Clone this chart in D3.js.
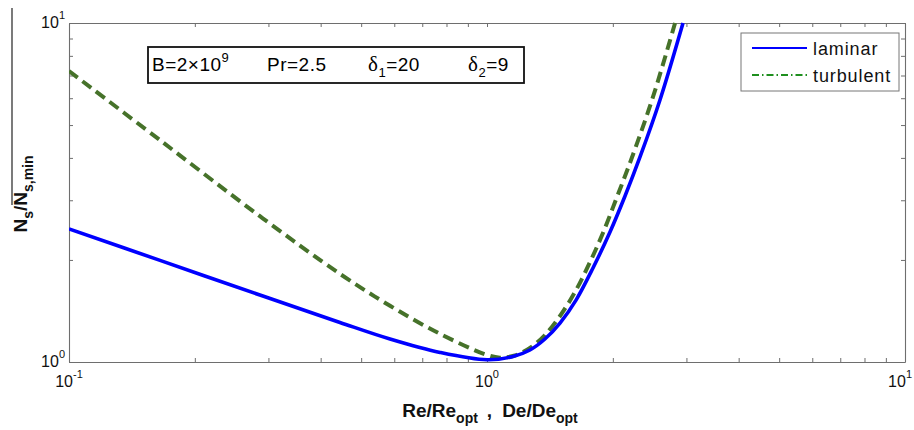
<!DOCTYPE html>
<html>
<head>
<meta charset="utf-8">
<script src="https://cdn.jsdelivr.net/npm/d3@7"></script>
<style>
  html, body { margin: 0; padding: 0; background: #fff; }
  svg { display: block; font-family: "Liberation Sans", Arial, sans-serif; }
</style>
</head>
<body>
<svg id="chart" width="914" height="430"></svg>
<script>
// Normalised ratio (Re/Re_opt or De/De_opt) and entropy generation N_s/N_s,min
const laminarX = [0.1, 0.1651, 0.2862, 0.4448, 0.5861, 0.772, 1.0, 1.154, 1.267, 1.376, 1.495, 1.633, 1.793, 1.969, 2.139, 2.323, 2.593, 2.944];
const laminarY = [2.469, 1.994, 1.576, 1.308, 1.169, 1.067, 1.015, 1.038, 1.085, 1.169, 1.303, 1.523, 1.894, 2.418, 3.088, 4.025, 5.929, 10];

const turbulentX = [0.1, 0.1651, 0.2862, 0.4448, 0.5861, 0.772, 1.0, 1.074, 1.167, 1.267, 1.376, 1.495, 1.624, 1.764, 1.894, 2.046, 2.211, 2.495, 2.818];
const turbulentY = [7.218, 4.511, 2.692, 1.82, 1.465, 1.211, 1.049, 1.03, 1.045, 1.1, 1.201, 1.367, 1.609, 1.972, 2.402, 3.067, 3.944, 6.05, 10];

const xDecades = [0.1, 1, 10];
const xDecadeExp = ["-1", "0", "1"];
const yDecades = [1, 10];
const yDecadeExp = ["0", "1"];

const seriesNames = ["laminar", "turbulent"];

const svg = d3.select("#chart");
const plotLeft = 69, plotRight = 905, plotTop = 23, plotBottom = 362;

const x = d3.scaleLog().domain([0.1, 10]).range([plotLeft, plotRight]);
const y = d3.scaleLog().domain([1, 10]).range([plotBottom, plotTop]);

const axisColor = "#6e6e6e";

svg.append("rect").attr("width", 914).attr("height", 430).attr("fill", "#fff");

svg.append("defs").append("clipPath").attr("id", "plotClip")
  .append("rect").attr("x", plotLeft).attr("y", plotTop - 3)
  .attr("width", plotRight - plotLeft).attr("height", plotBottom - plotTop + 3);

// Box axes with inward minor ticks on all four sides
function styleAxis(g) {
  g.selectAll("path.domain").attr("stroke", axisColor).attr("stroke-width", 1.1);
  g.selectAll(".tick line").attr("stroke", axisColor).attr("stroke-width", 1);
}
const xTicks = x.ticks();
const yTicks = y.ticks();

svg.append("g").attr("transform", `translate(0,${plotBottom})`)
  .call(d3.axisBottom(x).tickValues(xTicks).tickFormat("").tickSizeInner(-4).tickSizeOuter(0)).call(styleAxis);
svg.append("g").attr("transform", `translate(0,${plotTop})`)
  .call(d3.axisTop(x).tickValues(xTicks).tickFormat("").tickSizeInner(-4).tickSizeOuter(0)).call(styleAxis);
svg.append("g").attr("transform", `translate(${plotLeft},0)`)
  .call(d3.axisLeft(y).tickValues(yTicks).tickFormat("").tickSizeInner(-4).tickSizeOuter(0)).call(styleAxis);
svg.append("g").attr("transform", `translate(${plotRight},0)`)
  .call(d3.axisRight(y).tickValues(yTicks).tickFormat("").tickSizeInner(-4).tickSizeOuter(0)).call(styleAxis);

// Decade tick labels written as 10 with a superscript exponent;
// the last one is kept inside the page edge
const xLab = svg.append("g").selectAll("text").data(xDecades).join("text")
  .attr("x", (d, i) => i === xDecades.length - 1 ? 912 : x(d)).attr("y", 387)
  .attr("text-anchor", (d, i) => i === xDecades.length - 1 ? "end" : "middle")
  .attr("font-size", 16).attr("fill", "#111");
xLab.append("tspan").text("10");
xLab.append("tspan").attr("font-size", 11).attr("dy", -9).text((d, i) => xDecadeExp[i]);

const yLab = svg.append("g").selectAll("text").data(yDecades).join("text")
  .attr("x", plotLeft - 4).attr("y", d => y(d) + 5)
  .attr("text-anchor", "end").attr("font-size", 16).attr("fill", "#111");
yLab.append("tspan").text("10");
yLab.append("tspan").attr("font-size", 11).attr("dy", -9).text((d, i) => yDecadeExp[i]);

// Axis titles
const xt = svg.append("text").attr("x", 490).attr("y", 417)
  .attr("text-anchor", "middle").attr("font-size", 19).attr("font-weight", "bold").attr("fill", "#111");
xt.append("tspan").text("Re/Re");
xt.append("tspan").attr("font-size", 14).attr("dy", 6).text("opt");
xt.append("tspan").attr("dy", -6).attr("dx", 9).text(",");
xt.append("tspan").attr("dx", 10).text("De/De");
xt.append("tspan").attr("font-size", 14).attr("dy", 6).text("opt");

const yt = svg.append("text").attr("transform", "translate(27,194) rotate(-90)")
  .attr("text-anchor", "middle").attr("font-size", 19).attr("font-weight", "bold").attr("fill", "#111");
yt.append("tspan").text("N");
yt.append("tspan").attr("font-size", 14).attr("dy", 6).text("s");
yt.append("tspan").attr("dy", -6).text("/N");
yt.append("tspan").attr("font-size", 14).attr("dy", 6).text("s,min");
svg.append("line").attr("x1", 12).attr("x2", 12).attr("y1", 8).attr("y2", 205)
  .attr("stroke", "#222").attr("stroke-width", 1.2);

// Curves
const line = d3.line().x(d => x(d[0])).y(d => y(d[1])).curve(d3.curveCatmullRom.alpha(0.5));
const plot = svg.append("g").attr("clip-path", "url(#plotClip)");

plot.append("path").datum(d3.zip(turbulentX, turbulentY))
  .attr("d", line).attr("fill", "none").attr("stroke", "#46722a")
  .attr("stroke-width", 4).attr("stroke-dasharray", "11,6");
plot.append("path").datum(d3.zip(laminarX, laminarY))
  .attr("d", line).attr("fill", "none").attr("stroke", "#0000ff")
  .attr("stroke-width", 3.6);

// Parameter box
const pg = svg.append("g");
pg.append("rect").attr("x", 148).attr("y", 47).attr("width", 376).attr("height", 36)
  .attr("fill", "#fff").attr("stroke", "#111").attr("stroke-width", 1.8);
const pFont = 19;
const t1 = pg.append("text").attr("x", 152).attr("y", 71).attr("font-size", pFont).attr("letter-spacing", 0.5);
t1.append("tspan").text("B=2\u00d710");
t1.append("tspan").attr("font-size", 13).attr("dy", -9).text("9");
pg.append("text").attr("x", 267).attr("y", 71).attr("font-size", pFont).attr("letter-spacing", 0.5).text("Pr=2.5");
const t3 = pg.append("text").attr("x", 368).attr("y", 71).attr("font-size", pFont).attr("letter-spacing", 0.5);
t3.append("tspan").attr("font-family", "Liberation Serif, serif").attr("font-size", 21).text("\u03b4");
t3.append("tspan").attr("font-size", 13).attr("dy", 6).text("1");
t3.append("tspan").attr("dy", -6).text("=20");
const t4 = pg.append("text").attr("x", 468).attr("y", 71).attr("font-size", pFont).attr("letter-spacing", 0.5);
t4.append("tspan").attr("font-family", "Liberation Serif, serif").attr("font-size", 21).text("\u03b4");
t4.append("tspan").attr("font-size", 13).attr("dy", 6).text("2");
t4.append("tspan").attr("dy", -6).text("=9");

// Legend
const lg = svg.append("g");
lg.append("rect").attr("x", 741).attr("y", 33).attr("width", 158).attr("height", 58)
  .attr("fill", "#fff").attr("stroke", "#777").attr("stroke-width", 1);
const legendStyles = [
  { color: "#0000ff", dash: null, width: 2.2 },
  { color: "#1f8f1f", dash: "7,3,1.5,3", width: 2.2 }
];
seriesNames.forEach((name, i) => {
  const yy = 48 + i * 27;
  const l = lg.append("line").attr("x1", 752).attr("x2", 807).attr("y1", yy).attr("y2", yy)
    .attr("stroke", legendStyles[i].color).attr("stroke-width", legendStyles[i].width);
  if (legendStyles[i].dash) l.attr("stroke-dasharray", legendStyles[i].dash);
  lg.append("text").attr("x", 813).attr("y", yy + 7).attr("font-size", 18)
    .attr("letter-spacing", 0.9).attr("fill", "#111").text(name);
});
</script>
</body>
</html>
